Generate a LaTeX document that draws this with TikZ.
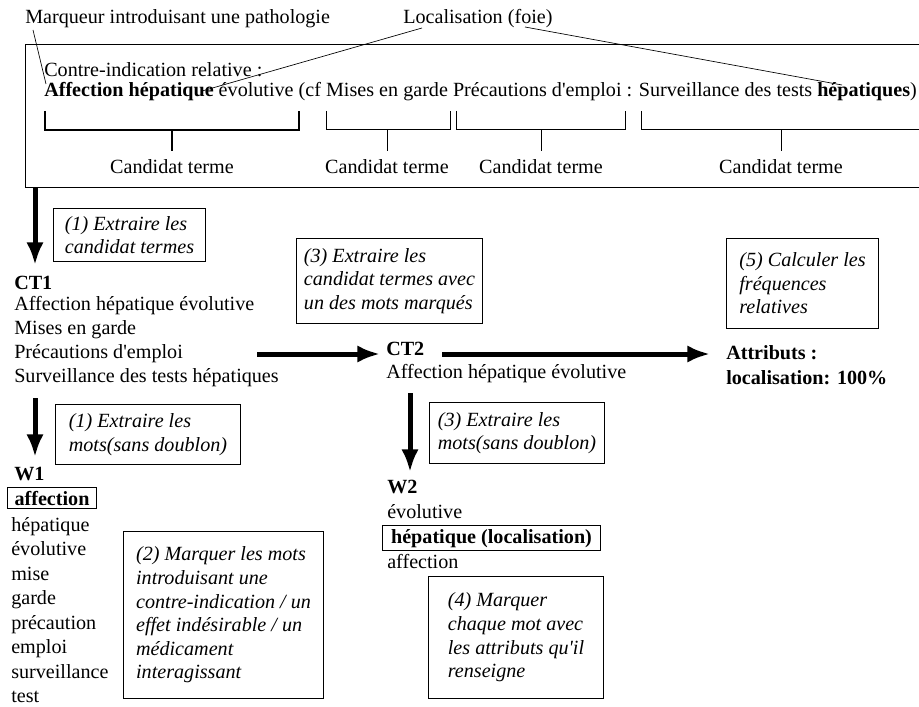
\documentclass[tikz,border=0pt]{standalone}
\usepackage{fontspec}
\setmainfont{Liberation Serif}[Ligatures=TeXOff]
\usetikzlibrary{arrows.meta}
\tikzset{
  fleche/.style={line width=3.75pt, -{Latex[length=17pt,width=13pt]}},
  etape/.style={draw, line width=0.75pt, anchor=north west, align=left, inner sep=0pt, execute at begin node=\itshape},
  texte/.style={anchor=base west, inner sep=0pt},
  titre/.style={texte, execute at begin node=\bfseries},
  candidat/.style={anchor=base, inner sep=0pt},
  marque/.style={draw, line width=0.75pt, anchor=base west, inner xsep=3pt, inner ysep=2.5pt, execute at begin node=\bfseries},
}

\begin{document}
\begin{tikzpicture}[x=0.75pt, y=-0.75pt, font=\fontsize{15.1}{17.7}\selectfont]
    \useasboundingbox (0,0) rectangle (919,706);
    % la phrase de depart
    \draw[line width=0.75pt] (919,45) -- (25,45) -- (25,187) -- (919,187);
    \node[texte] (marqueur) at (25,24) {Marqueur introduisant une pathologie};
    \node[texte] (localisation) at (403,24) {Localisation (foie)};
    \node[texte] (contre) at (44,77) {Contre-indication relative :};
    \node[texte] (phrase) at (44,97) {\textbf{Affection hépatique} évolutive (cf Mises en garde Précautions d'emploi : Surveillance des tests \textbf{hépatiques})};
    \coordinate (m1) at (33,30);
    \coordinate (m2) at (46,84);
    \coordinate (l1) at (422,28);
    \coordinate (l2) at (202,91);
    \coordinate (l3) at (525,27);
    \coordinate (l4) at (842,85);
    \draw[line width=0.5pt] (m1) -- (m2);
    \draw[line width=0.5pt] (l1) -- (l2);
    \draw[line width=0.5pt] (l3) -- (l4);
    % les crochets
    \draw[line width=1.5pt] (45,111) -- (45,130) -- (299,130) -- (299,111);
    \draw[line width=1.5pt] (172,130) -- (172,151);
    \draw[line width=0.75pt] (326,111) -- (326,130) -- (450,130) -- (450,111);
    \draw[line width=0.75pt] (387,130) -- (387,151);
    \draw[line width=0.75pt] (456,111) -- (456,130) -- (625,130) -- (625,111);
    \draw[line width=0.75pt] (541,130) -- (541,151);
    \draw[line width=0.75pt] (641,111) -- (641,130) -- (919,130);
    \draw[line width=0.75pt] (781,130) -- (781,151);
    \node[candidat] (cand1) at (172,173) {Candidat terme};
    \node[candidat] (cand2) at (387,173) {Candidat terme};
    \node[candidat] (cand3) at (541,173) {Candidat terme};
    \node[candidat] (cand4) at (781,173) {Candidat terme};
    % CT1
    \coordinate (a1) at (35,188);
    \coordinate (b1) at (35,265);
    \draw[fleche] (a1) -- (b1);
    \node[etape, minimum width=114pt, minimum height=39.75pt] (e1) at (53,208) {(1) Extraire les\\candidat termes};
    \node[titre] (ct1) at (14,289) {CT1};
    \node[texte] (ct1a) at (14,310) {Affection hépatique évolutive};
    \node[texte] (ct1b) at (14,334) {Mises en garde};
    \node[texte] (ct1c) at (14,358) {Précautions d'emploi};
    \node[texte] (ct1d) at (14,382) {Surveillance des tests hépatiques};
    % W1
    \coordinate (a2) at (35,398);
    \coordinate (b2) at (35,457);
    \draw[fleche] (a2) -- (b2);
    \node[etape, minimum width=138.75pt, minimum height=45pt] (e1b) at (55,404) {(1) Extraire les\\mots(sans doublon)};
    \node[titre] (w1) at (14,480) {W1};
    \node[marque, minimum width=66.75pt] (w1a) at (7,505) {affection};
    \node[texte] (w1b) at (11,531) {hépatique};
    \node[texte] (w1c) at (11,555.5) {évolutive};
    \node[texte] (w1d) at (11,580) {mise};
    \node[texte] (w1e) at (11,604.5) {garde};
    \node[texte] (w1f) at (11,629) {précaution};
    \node[texte] (w1g) at (11,653.5) {emploi};
    \node[texte] (w1h) at (11,678) {surveillance};
    \node[texte] (w1i) at (11,702.5) {test};
    \node[etape, minimum width=150pt, minimum height=125.25pt] (e2) at (123,531) {(2) Marquer les mots\\introduisant une\\contre-indication / un\\effet indésirable / un\\médicament\\interagissant};
    % CT2
    \coordinate (a3) at (257,354);
    \coordinate (b3) at (380,354);
    \draw[fleche] (a3) -- (b3);
    \node[etape, minimum width=139.5pt, minimum height=63.75pt] (e3) at (296,238) {(3) Extraire les\\candidat termes avec\\un des mots marqués};
    \node[titre] (ct2) at (386,355) {CT2};
    \node[texte] (ct2a) at (386,378) {Affection hépatique évolutive};
    % W2
    \coordinate (a4) at (410,393);
    \coordinate (b4) at (410,472);
    \draw[fleche] (a4) -- (b4);
    \node[etape, minimum width=131.25pt, minimum height=45.75pt] (e3b) at (429,402) {(3) Extraire les\\mots(sans doublon)};
    \node[titre] (w2) at (387,493) {W2};
    \node[texte] (w2a) at (387,518) {évolutive};
    \node[marque, minimum width=163.5pt] (w2b) at (382,543) {hépatique (localisation)};
    \node[texte] (w2c) at (387,568) {affection};
    \node[etape, minimum width=131.25pt, minimum height=91.5pt] (e4) at (428,576) {(4) Marquer\\chaque mot avec\\les attributs qu'il\\renseigne};
    % attributs
    \coordinate (a5) at (442,354);
    \coordinate (b5) at (710,354);
    \draw[fleche] (a5) -- (b5);
    \node[etape, minimum width=114pt, minimum height=67.5pt] (e5) at (726,238) {(5) Calculer les\\fréquences\\relatives};
    \node[titre] (attr) at (726,359) {Attributs :};
    \node[titre] (attrb) at (726,384) {localisation: 100\%};
\end{tikzpicture}
\end{document}
